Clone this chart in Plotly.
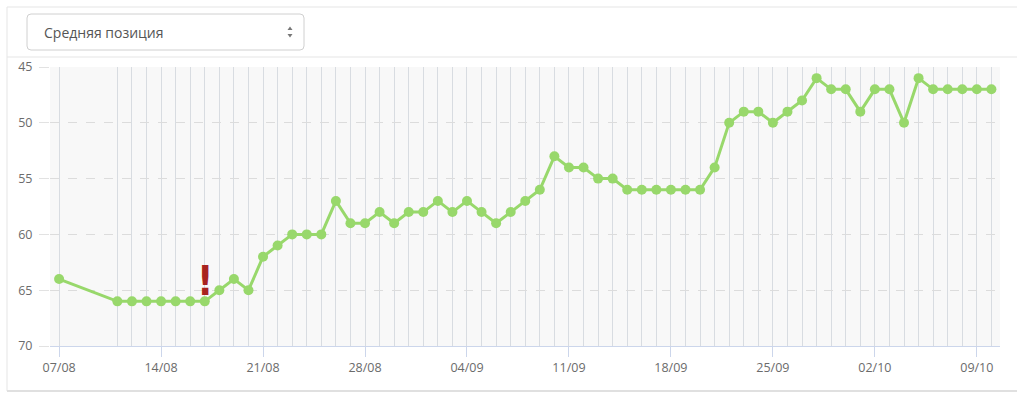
import plotly.graph_objects as go

#%% DATA

dates = [
    "2017-08-07",
    "2017-08-11", "2017-08-12", "2017-08-13", "2017-08-14", "2017-08-15", "2017-08-16", "2017-08-17",
    "2017-08-18", "2017-08-19", "2017-08-20", "2017-08-21", "2017-08-22", "2017-08-23", "2017-08-24",
    "2017-08-25", "2017-08-26", "2017-08-27", "2017-08-28", "2017-08-29", "2017-08-30", "2017-08-31",
    "2017-09-01", "2017-09-02", "2017-09-03", "2017-09-04", "2017-09-05", "2017-09-06", "2017-09-07",
    "2017-09-08", "2017-09-09", "2017-09-10", "2017-09-11", "2017-09-12", "2017-09-13", "2017-09-14",
    "2017-09-15", "2017-09-16", "2017-09-17", "2017-09-18", "2017-09-19", "2017-09-20", "2017-09-21",
    "2017-09-22", "2017-09-23", "2017-09-24", "2017-09-25", "2017-09-26", "2017-09-27", "2017-09-28",
    "2017-09-29", "2017-09-30", "2017-10-01", "2017-10-02", "2017-10-03", "2017-10-04", "2017-10-05",
    "2017-10-06", "2017-10-07", "2017-10-08", "2017-10-09", "2017-10-10",
]

avg_position = [
    64,
    66, 66, 66, 66, 66, 66, 66,
    65, 64, 65, 62, 61, 60, 60,
    60, 57, 59, 59, 58, 59, 58,
    58, 57, 58, 57, 58, 59, 58,
    57, 56, 53, 54, 54, 55, 55,
    56, 56, 56, 56, 56, 56, 54,
    50, 49, 49, 50, 49, 48, 46,
    47, 47, 49, 47, 47, 50, 46,
    47, 47, 47, 47, 47,
]

week_ticks = ["2017-08-07", "2017-08-14", "2017-08-21", "2017-08-28", "2017-09-04",
              "2017-09-11", "2017-09-18", "2017-09-25", "2017-10-02", "2017-10-09"]
week_labels = ["07/08", "14/08", "21/08", "28/08", "04/09",
               "11/09", "18/09", "25/09", "02/10", "09/10"]

y_ticks = [45, 50, 55, 60, 65, 70]

alert_date = "2017-08-17"
alert_value = 66

metric_name = "Средняя позиция"

#%% FIGURE

W, H = 1024, 401
px = lambda v: v / W
py = lambda v: 1 - v / H

green = "#98d86b"
label_font = dict(family="Open Sans", size=12.5, color="#6b6b6b")

fig = go.Figure()

# invisible helper trace so the label axis gets drawn
fig.add_trace(go.Scatter(
    x=dates, y=avg_position, xaxis="x2", mode="lines",
    line=dict(color="rgba(0,0,0,0)"), hoverinfo="skip", showlegend=False
))

fig.add_trace(go.Scatter(
    x=dates, y=avg_position, mode="lines+markers",
    line=dict(color=green, width=3),
    marker=dict(color=green, size=10),
    name=metric_name, showlegend=False,
    hovertemplate="<b>%{x|%d/%m}</b><br>" + metric_name + ": %{y}<extra></extra>"
))

x_range = ["2017-08-06 09:00", "2017-10-10 14:10"]
x_domain = [px(50), px(1000)]

fig.update_layout(
    width=W, height=H,
    margin=dict(l=0, r=0, t=0, b=0, autoexpand=False),
    paper_bgcolor="white",
    plot_bgcolor="#f8f8f8",
    showlegend=False,
    xaxis=dict(
        domain=x_domain, range=x_range, type="date",
        tickvals=dates, showticklabels=False, ticks="",
        showgrid=True, gridcolor="#d8dce1", gridwidth=1,
        zeroline=False, showline=False, fixedrange=True, automargin=False,
    ),
    xaxis2=dict(
        domain=x_domain, range=x_range, type="date",
        overlaying="x", side="bottom", anchor="y",
        tickvals=week_ticks, ticktext=week_labels,
        ticks="outside", ticklen=10, tickcolor="#ccd6eb", tickwidth=1,
        tickfont=label_font, showgrid=False, zeroline=False,
        showline=True, linecolor="#ccd6eb", linewidth=1, automargin=False,
    ),
    yaxis=dict(
        domain=[py(346), py(67)], range=[70, 45],
        tickvals=y_ticks, ticks="outside", ticklen=10, tickcolor="#e2e2e2",
        tickfont=label_font, ticklabelstandoff=4,
        showgrid=True, gridcolor="#dcdcdc", griddash="dash", gridwidth=1,
        zeroline=False, showline=False, automargin=False,
    ),
)

# warning mark
fig.add_annotation(
    x=alert_date, y=alert_value, yshift=-5, yanchor="bottom",
    text="<b>!</b>", showarrow=False,
    font=dict(family="DejaVu Sans Condensed", size=40, color="#a8231f"),
)

# card frame
frame = "#e5e5e5"
fig.add_shape(type="line", xref="paper", yref="paper",
              x0=px(7), x1=px(1017), y0=py(7), y1=py(7), line=dict(color=frame, width=1))
fig.add_shape(type="line", xref="paper", yref="paper",
              x0=px(7), x1=px(1017), y0=py(57), y1=py(57), line=dict(color=frame, width=1))
fig.add_shape(type="line", xref="paper", yref="paper",
              x0=px(7), x1=px(7), y0=py(7), y1=py(391), line=dict(color=frame, width=1))
fig.add_shape(type="line", xref="paper", yref="paper",
              x0=px(7), x1=px(1017), y0=py(391), y1=py(391), line=dict(color="#e0e0e0", width=2))

# select box
x0, x1, y0, y1, r = 27, 304, 14, 50, 4
path = (f"M {px(x0 + r)},{py(y0)} L {px(x1 - r)},{py(y0)} "
        f"Q {px(x1)},{py(y0)} {px(x1)},{py(y0 + r)} L {px(x1)},{py(y1 - r)} "
        f"Q {px(x1)},{py(y1)} {px(x1 - r)},{py(y1)} L {px(x0 + r)},{py(y1)} "
        f"Q {px(x0)},{py(y1)} {px(x0)},{py(y1 - r)} L {px(x0)},{py(y0 + r)} "
        f"Q {px(x0)},{py(y0)} {px(x0 + r)},{py(y0)} Z")
fig.add_shape(type="path", xref="paper", yref="paper", path=path,
              line=dict(color="#d0d0d0", width=1), fillcolor="white")

fig.add_annotation(
    xref="paper", yref="paper", x=px(42), y=py(32), xanchor="left", yanchor="middle",
    text=metric_name, showarrow=False,
    font=dict(family="Open Sans", size=14, color="#555555"),
)

# up/down arrows of the select
fig.add_shape(type="path", xref="paper", yref="paper",
              path=f"M {px(287.5)},{py(30)} L {px(292.5)},{py(30)} L {px(290)},{py(26.5)} Z",
              line=dict(width=0), fillcolor="#777777")
fig.add_shape(type="path", xref="paper", yref="paper",
              path=f"M {px(287.5)},{py(34)} L {px(292.5)},{py(34)} L {px(290)},{py(37.5)} Z",
              line=dict(width=0), fillcolor="#777777")

# page has a default 8px body margin; drop it so the figure sits at 0,0
fig.write_html(
    "out.html",
    config={"displayModeBar": False},
    post_script="document.body.style.margin='0';",
)
